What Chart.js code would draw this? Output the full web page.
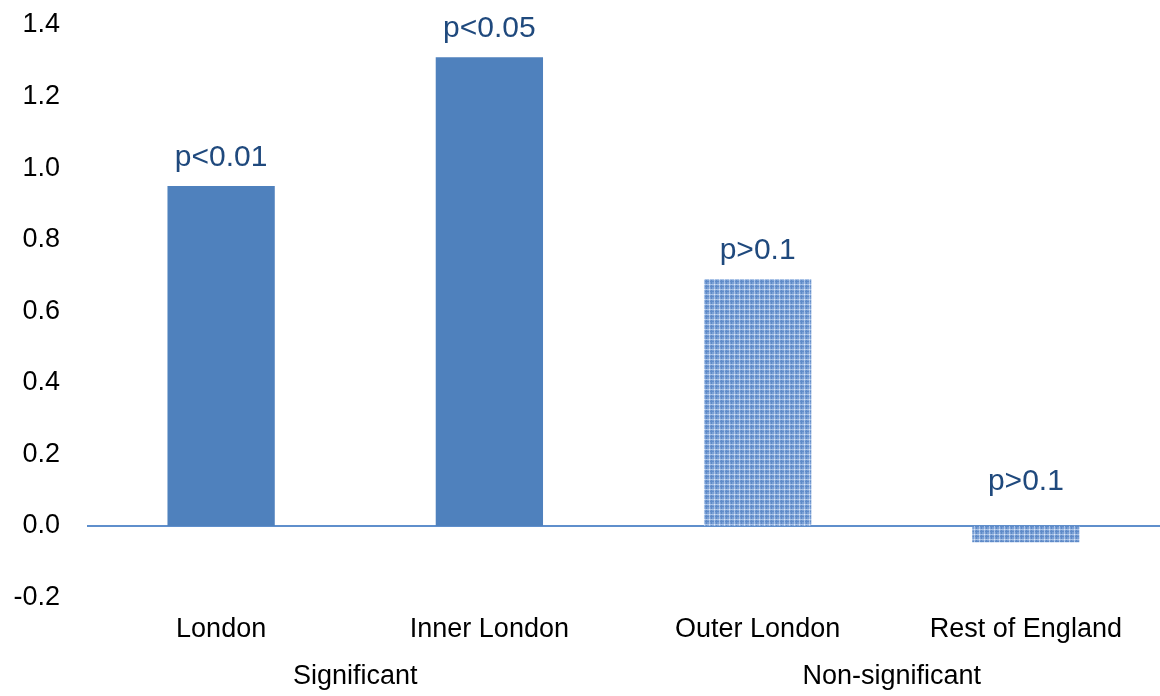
<!DOCTYPE html>
<html>
<head>
<meta charset="utf-8">
<script src="https://cdn.jsdelivr.net/npm/chart.js@4/dist/chart.umd.min.js"></script>
<style>
  body { margin: 0; background: #fff; }
  #wrap { width: 1160px; height: 696px; }
</style>
</head>
<body>
<div id="wrap"><canvas id="myChart" width="1160" height="696"></canvas></div>
<script>
const categorias = ['London', 'Inner London', 'Outer London', 'Rest of England'];
const valores = [0.95, 1.31, 0.69, -0.045];
const rotulosP = ['p<0.01', 'p<0.05', 'p>0.1', 'p>0.1'];
const grupos = ['Significant', 'Non-significant'];
const gruposIndices = [[0, 1], [2, 3]];
const padrao = [false, false, true, true]; // barras não significativas têm textura

const azul = '#4F81BD';
const fonte = '"Liberation Sans", Arial, sans-serif';

// textura quadriculada para as barras não significativas
function criarTextura() {
  const c = document.createElement('canvas');
  c.width = 5; c.height = 5;
  const g = c.getContext('2d');
  g.fillStyle = '#7ba0d5';
  g.fillRect(0, 0, 5, 5);
  g.fillStyle = '#a9c3e7';
  g.fillRect(0, 4, 5, 1);
  g.fillRect(4, 0, 1, 5);
  g.fillStyle = '#dde7f6';
  g.fillRect(4, 4, 1, 1);
  g.fillStyle = '#5f8bc8';
  g.fillRect(1, 0, 1, 4);
  g.fillRect(0, 1, 4, 1);
  return g.createPattern(c, 'repeat');
}
const textura = criarTextura();

const pluginRotulos = {
  id: 'rotulos',
  afterDatasetsDraw(chart) {
    const ctx = chart.ctx;
    const y = chart.scales.y;
    const x = chart.scales.x;
    ctx.save();
    ctx.font = '30px ' + fonte;
    ctx.fillStyle = '#1F497D';
    ctx.textAlign = 'center';
    ctx.textBaseline = 'middle';
    valores.forEach((v, i) => {
      const px = x.getPixelForValue(i);
      const py = y.getPixelForValue(Math.abs(v)) - 28;
      ctx.fillText(rotulosP[i], px, py);
    });
    // rótulos dos grupos
    ctx.font = '27px ' + fonte;
    ctx.fillStyle = '#000';
    grupos.forEach((g, k) => {
      const [a, b] = gruposIndices[k];
      const px = (x.getPixelForValue(a) + x.getPixelForValue(b)) / 2;
      ctx.fillText(g, px, 677);
    });
    ctx.restore();
  }
};

const ctx = document.getElementById('myChart').getContext('2d');
const myChart = new Chart(ctx, {
  type: 'bar',
  data: {
    labels: categorias,
    datasets: [{
      data: valores,
      backgroundColor: padrao.map(p => p ? textura : azul),
      borderWidth: 0,
      barPercentage: 0.4,
      categoryPercentage: 1.0
    }]
  },
  options: {
    responsive: false,
    animation: false,
    layout: { padding: { top: 25, left: 0, right: -9, bottom: 42 } },
    plugins: {
      legend: { display: false },
      tooltip: { enabled: false }
    },
    scales: {
      x: {
        grid: { display: false },
        border: { display: false },
        ticks: { color: '#000', font: { size: 27, family: fonte }, padding: 8 }
      },
      y: {
        min: -0.2,
        max: 1.4,
        border: { display: false },
        afterFit(scale) {
          scale.width = 87;
          scale.paddingTop = 0;
        },
        grid: {
          drawTicks: false,
          lineWidth: 2,
          color: c => (Math.abs(c.tick.value) < 1e-9 ? '#5f8fcc' : 'transparent')
        },
        ticks: {
          stepSize: 0.2,
          padding: 27,
          color: '#000',
          font: { size: 27, family: fonte },
          callback: v => (Math.abs(v) < 1e-9 ? 0 : v).toFixed(1)
        }
      }
    }
  },
  plugins: [pluginRotulos]
});
</script>
</body>
</html>
